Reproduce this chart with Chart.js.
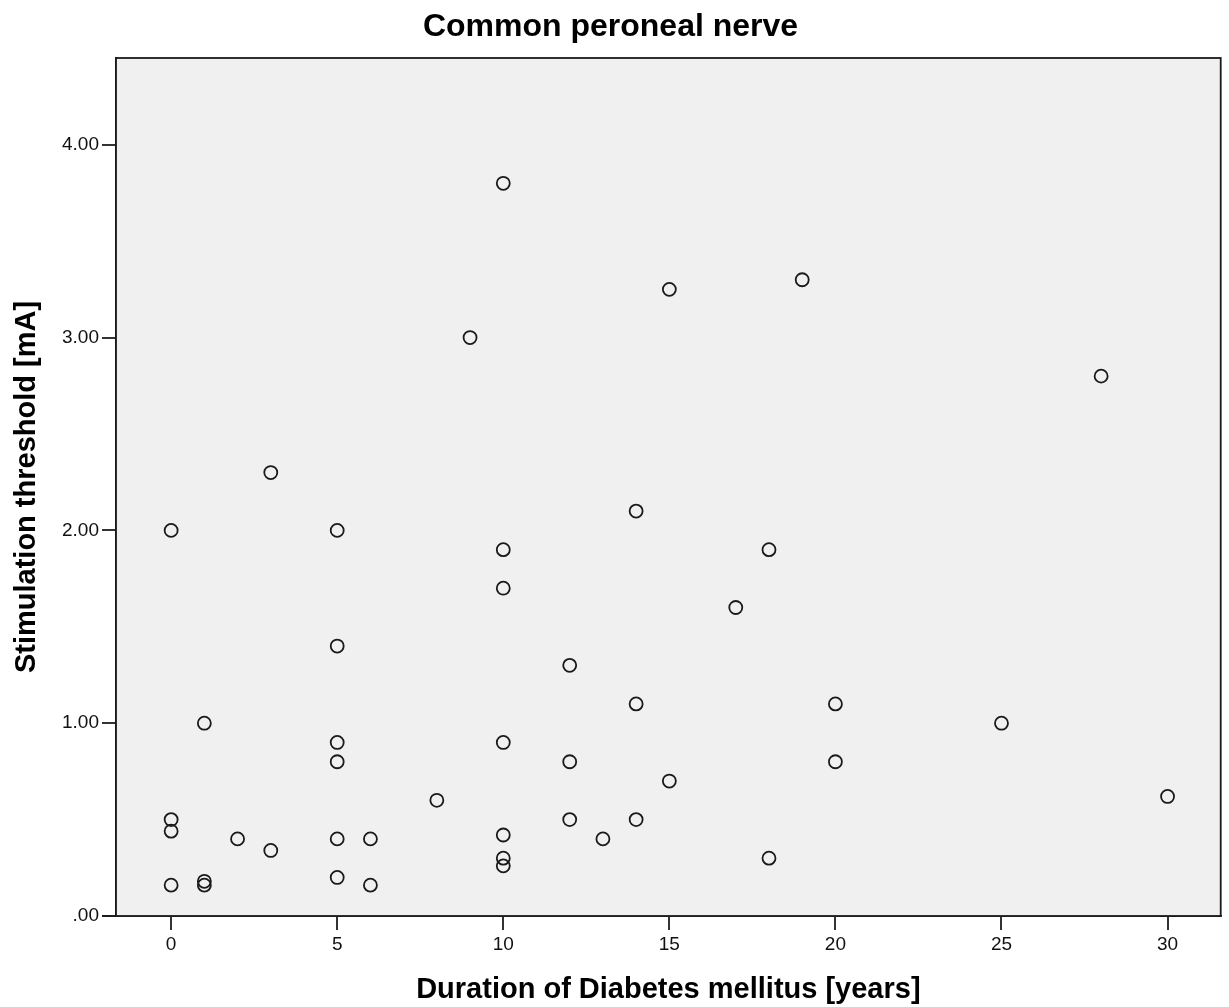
<!DOCTYPE html>
<html>
<head>
<meta charset="utf-8">
<script src="https://cdn.jsdelivr.net/npm/chart.js@4"></script>
<style>
  html, body { margin: 0; padding: 0; background: #fff; }
  #wrap { width: 1229px; height: 1007px; }
</style>
</head>
<body>
<div id="wrap"><canvas id="scatter"></canvas></div>
<script>
// duration of diabetes (years) and stimulation threshold (mA)
var durationYears = [0, 0, 0, 0, 1, 1, 1, 2, 3, 3, 5, 5, 5, 5, 5, 5, 6, 6, 8, 9,
  10, 10, 10, 10, 10, 10, 10, 12, 12, 12, 13, 14, 14, 14, 15, 15, 17, 18, 18, 19,
  20, 20, 25, 28, 30];
var thresholdMA = [2.00, 0.50, 0.44, 0.16, 1.00, 0.18, 0.16, 0.40, 2.30, 0.34, 2.00, 1.40, 0.90, 0.80, 0.40, 0.20, 0.40, 0.16, 0.60, 3.00,
  3.80, 1.90, 1.70, 0.90, 0.42, 0.30, 0.26, 1.30, 0.80, 0.50, 0.40, 2.10, 1.10, 0.50, 3.25, 0.70, 1.60, 1.90, 0.30, 3.30,
  1.10, 0.80, 1.00, 2.80, 0.62];
var xTickValues = [0, 5, 10, 15, 20, 25, 30];
var yTickValues = [0, 1, 2, 3, 4];

var points = durationYears.map(function (d, i) {
  return { x: d, y: thresholdMA[i] };
});

var fontFamily = '"Liberation Sans", Arial, sans-serif';

// grey plot area with a frame, like SPSS output
var plotFrame = {
  id: 'plotFrame',
  beforeDatasetsDraw: function (chart) {
    var a = chart.chartArea, ctx = chart.ctx;
    ctx.save();
    ctx.fillStyle = '#f0f0f0';
    ctx.fillRect(a.left, a.top, a.right - a.left, a.bottom - a.top);
    ctx.restore();
  },
  afterDatasetsDraw: function (chart) {
    var a = chart.chartArea, ctx = chart.ctx;
    ctx.save();
    ctx.strokeStyle = '#1a1a1a';
    ctx.lineWidth = 1.8;
    ctx.strokeRect(a.left, a.top, a.right - a.left, a.bottom - a.top);
    ctx.beginPath();
    ctx.moveTo(a.left - 14, a.bottom);
    ctx.lineTo(a.left, a.bottom);
    ctx.stroke();
    ctx.restore();
  }
};

new Chart(document.getElementById('scatter'), {
  type: 'scatter',
  data: {
    datasets: [{
      data: points,
      pointStyle: 'circle',
      pointRadius: 6.5,
      pointHoverRadius: 6.5,
      pointBorderWidth: 1.8,
      borderColor: '#1a1a1a',
      backgroundColor: 'rgba(0,0,0,0)'
    }]
  },
  options: {
    responsive: true,
    maintainAspectRatio: false,
    animation: false,
    layout: { padding: { left: 0, right: 8, top: 0, bottom: 0 } },
    plugins: {
      legend: { display: false },
      tooltip: { enabled: false },
      title: {
        display: true,
        text: 'Common peroneal nerve',
        color: '#000',
        font: { family: fontFamily, size: 32, weight: 'bold' },
        padding: { top: 8, bottom: 11.6 }
      }
    },
    scales: {
      x: {
        type: 'linear',
        min: -1.66,
        max: 31.6,
        afterBuildTicks: function (s) {
          s.ticks = xTickValues.map(function (v) { return { value: v }; });
        },
        afterFit: function (s) { s.height = 91; },
        grid: { drawOnChartArea: false, drawTicks: true, tickLength: 14, color: '#333', lineWidth: 2 },
        border: { display: true, color: '#1a1a1a', width: 1.8 },
        ticks: { color: '#111', font: { family: fontFamily, size: 19 }, padding: 3 },
        title: {
          display: true,
          text: 'Duration of Diabetes mellitus [years]',
          color: '#000',
          font: { family: fontFamily, size: 29, weight: 'bold' },
          padding: { top: 0, bottom: 0 }
        }
      },
      y: {
        type: 'linear',
        min: 0,
        max: 4.45,
        afterBuildTicks: function (s) {
          s.ticks = yTickValues.map(function (v) { return { value: v }; });
        },
        afterFit: function (s) { s.width = 116; },
        grid: { drawOnChartArea: false, drawTicks: true, tickLength: 14, color: '#333', lineWidth: 2 },
        border: { display: true, color: '#1a1a1a', width: 1.8 },
        ticks: {
          color: '#111',
          font: { family: fontFamily, size: 19 },
          padding: 3,
          callback: function (v) { return v === 0 ? '.00' : v.toFixed(2); }
        },
        title: {
          display: true,
          text: 'Stimulation threshold [mA]',
          color: '#000',
          font: { family: fontFamily, size: 29, weight: 'bold' },
          padding: { top: 10, bottom: 0 }
        }
      }
    }
  },
  plugins: [plotFrame]
});
</script>
</body>
</html>
